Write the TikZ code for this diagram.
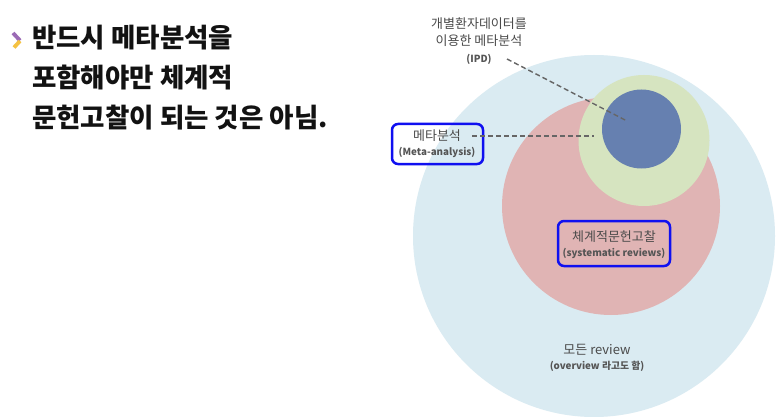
\documentclass[tikz,border=0pt]{standalone}
\usepackage{fontspec}
\setmainfont{Noto Sans CJK KR}
\newfontfamily\kr{Noto Sans CJK KR}
\definecolor{bigc}{HTML}{DAEBF2}
\definecolor{pinkc}{HTML}{E0B4B4}
\definecolor{greenc}{HTML}{D6E4C0}
\definecolor{bluec}{HTML}{6680B0}
\definecolor{labgray}{HTML}{4A4A4A}
\definecolor{subgray}{HTML}{555555}
\definecolor{boxblue}{HTML}{1010F0}
\definecolor{chevp}{HTML}{9B6BB5}
\definecolor{chevy}{HTML}{F5C242}
\newcommand{\subtxt}[1]{{\color{subgray}\bfseries\fontsize{9.8}{12}\selectfont #1}}
\begin{document}
\begin{tikzpicture}[x=1pt,y=-1pt,
  title/.style={anchor=base west, inner sep=0pt, font=\kr\bfseries\fontsize{26.5}{30}\selectfont, text=black!93},
  lab/.style={align=center, inner sep=0pt, text=labgray, font=\kr\fontsize{13}{17}\selectfont},
  bluebox/.style={draw=boxblue, line width=2.5pt, rounded corners=6pt, inner sep=0pt},
  leader/.style={draw=black!60, line width=1.4pt, dash pattern=on 5pt off 3pt}]
\useasboundingbox (0,0) rectangle (784,417);
\fill[white] (0,0) rectangle (784,417);
% circles
\fill[bigc] (594,236) circle[radius=181pt];
\fill[pinkc] (611,206) circle[radius=109pt];
\fill[greenc] (644,140.5) circle[radius=65.5pt];
\fill[bluec] (641.5,129) circle[radius=39.5pt];
% bullet chevron
\draw[chevp, line width=3.8pt] (13,33) -- (20,40.5);
\draw[chevy, line width=3.8pt] (20,41) -- (14,47.5);
% title
\node[title] (t1) at (32,48) {반드시 메타분석을};
\node[title] (t2) at (32,88) {포함해야만 체계적};
\node[title] (t3) at (32,127.5) {문헌고찰이 되는 것은 아님.};
% IPD label
\node[lab] (ipd) at (479,41) {개별환자데이터를\\이용한 메타분석\\\subtxt{(IPD)}};
\coordinate (ipdS) at (507,59);
\coordinate (ipdE) at (627,121);
\draw[leader] (ipdS) -- (ipdE);
% meta-analysis box
\node[bluebox, minimum width=91pt, minimum height=40pt] (meta) at (437.5,144) {};
\node[lab] (metat) at (437,144) {메타분석\\[-2pt]\subtxt{(Meta-analysis)}};
\coordinate (metaS) at (472,136);
\coordinate (metaE) at (594,136);
\draw[leader] (metaS) -- (metaE);
% systematic review box
\node[bluebox, minimum width=112pt, minimum height=45pt] (sr) at (614,243.5) {};
\node[lab] (srt) at (614,245) {체계적문헌고찰\\[-2pt]\subtxt{(systematic reviews)}};
% all reviews
\node[lab] (all) at (597,358) {모든 review\\[-2pt]\subtxt{(overview 라고도 함)}};
\end{tikzpicture}
\end{document}
